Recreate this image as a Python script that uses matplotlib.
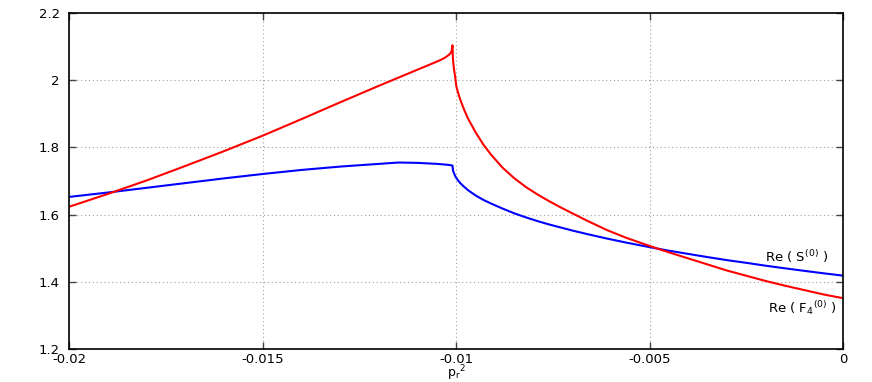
import matplotlib
matplotlib.use("Agg")
import matplotlib.pyplot as plt

plt.rcParams['font.family'] = ['DejaVu Sans']
plt.rcParams['mathtext.fontset'] = 'dejavusans'

# Re(F4^(0)) -- red, left of cusp and right of cusp
red_x_left = [-0.0200, -0.0190, -0.0180, -0.0170, -0.0160, -0.0150, -0.0140, -0.0130,
              -0.0120, -0.0115, -0.0110, -0.0106, -0.0104, -0.0103, -0.0102, -0.01015,
              -0.01012, -0.0101]
red_y_left = [1.624, 1.662, 1.702, 1.745, 1.789, 1.835, 1.884, 1.934,
              1.983, 2.007, 2.031, 2.050, 2.060, 2.066, 2.074, 2.080,
              2.087, 2.103]
red_x_right = [-0.01009, -0.01008, -0.01006, -0.01003, -0.0100, -0.00995, -0.0099, -0.0098,
               -0.0097, -0.0095, -0.0093, -0.0091, -0.0088, -0.0085, -0.0082, -0.0079,
               -0.0076, -0.0073, -0.0070, -0.0066, -0.0061, -0.0056, -0.0050, -0.0045,
               -0.0040, -0.0035, -0.0030, -0.0025, -0.0020, -0.0015, -0.0010, -0.0005, 0.0]
red_y_right = [2.066, 2.052, 2.031, 2.009, 1.981, 1.960, 1.942, 1.912,
               1.886, 1.844, 1.808, 1.778, 1.739, 1.708, 1.682, 1.660,
               1.640, 1.6215, 1.604, 1.581, 1.554, 1.531, 1.507, 1.488,
               1.470, 1.452, 1.434, 1.4185, 1.403, 1.389, 1.376, 1.363, 1.352]

# Re(S^(0)) -- blue
blue_x_left = [-0.0200, -0.0190, -0.0180, -0.0170, -0.0160, -0.0150, -0.0140, -0.0130,
               -0.0120, -0.0115, -0.0110, -0.0105, -0.0102, -0.0101]
blue_y_left = [1.653, 1.666, 1.680, 1.694, 1.708, 1.721, 1.733, 1.743,
               1.751, 1.755, 1.754, 1.751, 1.748, 1.746]
blue_x_right = [-0.01009, -0.01008, -0.01006, -0.01003, -0.0100, -0.00995, -0.0099, -0.0098,
                -0.0097, -0.0095, -0.0093, -0.0091, -0.0088, -0.0085, -0.0082, -0.0079,
                -0.0076, -0.0073, -0.0070, -0.0066, -0.0061, -0.0056, -0.0050, -0.0045,
                -0.0040, -0.0035, -0.0030, -0.0025, -0.0020, -0.0015, -0.0010, -0.0005, 0.0]
blue_y_right = [1.734, 1.729, 1.723, 1.715, 1.709, 1.701, 1.694, 1.683,
                1.673, 1.657, 1.644, 1.633, 1.618, 1.604, 1.592, 1.581,
                1.571, 1.562, 1.553, 1.542, 1.529, 1.517, 1.5036, 1.493,
                1.4835, 1.474, 1.465, 1.457, 1.4485, 1.4407, 1.4332, 1.4259, 1.419]

x_ticks = [-0.02, -0.015, -0.01, -0.005, 0]
x_tick_labels = ['-0.02', '-0.015', '-0.01', '-0.005', '0']
y_ticks = [1.2, 1.4, 1.6, 1.8, 2.0, 2.2]
y_tick_labels = ['1.2', '1.4', '1.6', '1.8', '2', '2.2']

fig = plt.figure(figsize=(8.72, 3.82), dpi=100)
ax = fig.add_axes([0.0796, 0.0853, 0.8875, 0.8815])

ax.plot(blue_x_left + blue_x_right, blue_y_left + blue_y_right, color='#0000ff', lw=1.5)
ax.plot(red_x_left + red_x_right, red_y_left + red_y_right, color='#ff0000', lw=1.5)

ax.set_xlim(-0.02, 0)
ax.set_ylim(1.2, 2.2)
ax.set_xticks(x_ticks)
ax.set_xticklabels(x_tick_labels)
ax.set_yticks(y_ticks)
ax.set_yticklabels(y_tick_labels)
ax.grid(True, linestyle=(0, (1, 2.5)), color='#a0a0a0', lw=0.8)
ax.tick_params(direction='in', length=5, width=1, color='#444444',
               top=True, right=True, labelsize=9.5, pad=2.5)
ax.tick_params(axis='y', pad=7)
for s in ax.spines.values():
    s.set_linewidth(1.2)
    s.set_color('black')

ax.set_xlabel('p$_{\\mathrm{r}}$$^{\\mathrm{2}}$', fontsize=9, va='center')
ax.xaxis.set_label_coords(0.5, -0.072)

ax.text(0.980, 0.259, 'Re ( S$^{\\mathrm{(0)}}$ )', transform=ax.transAxes,
        ha='right', va='baseline', fontsize=9.5)
ax.text(0.992, 0.108, 'Re ( F$_{\\mathrm{4}}$$^{\\mathrm{(0)}}$ )', transform=ax.transAxes,
        ha='right', va='baseline', fontsize=9.5)

fig.savefig('out.png', dpi=100)
